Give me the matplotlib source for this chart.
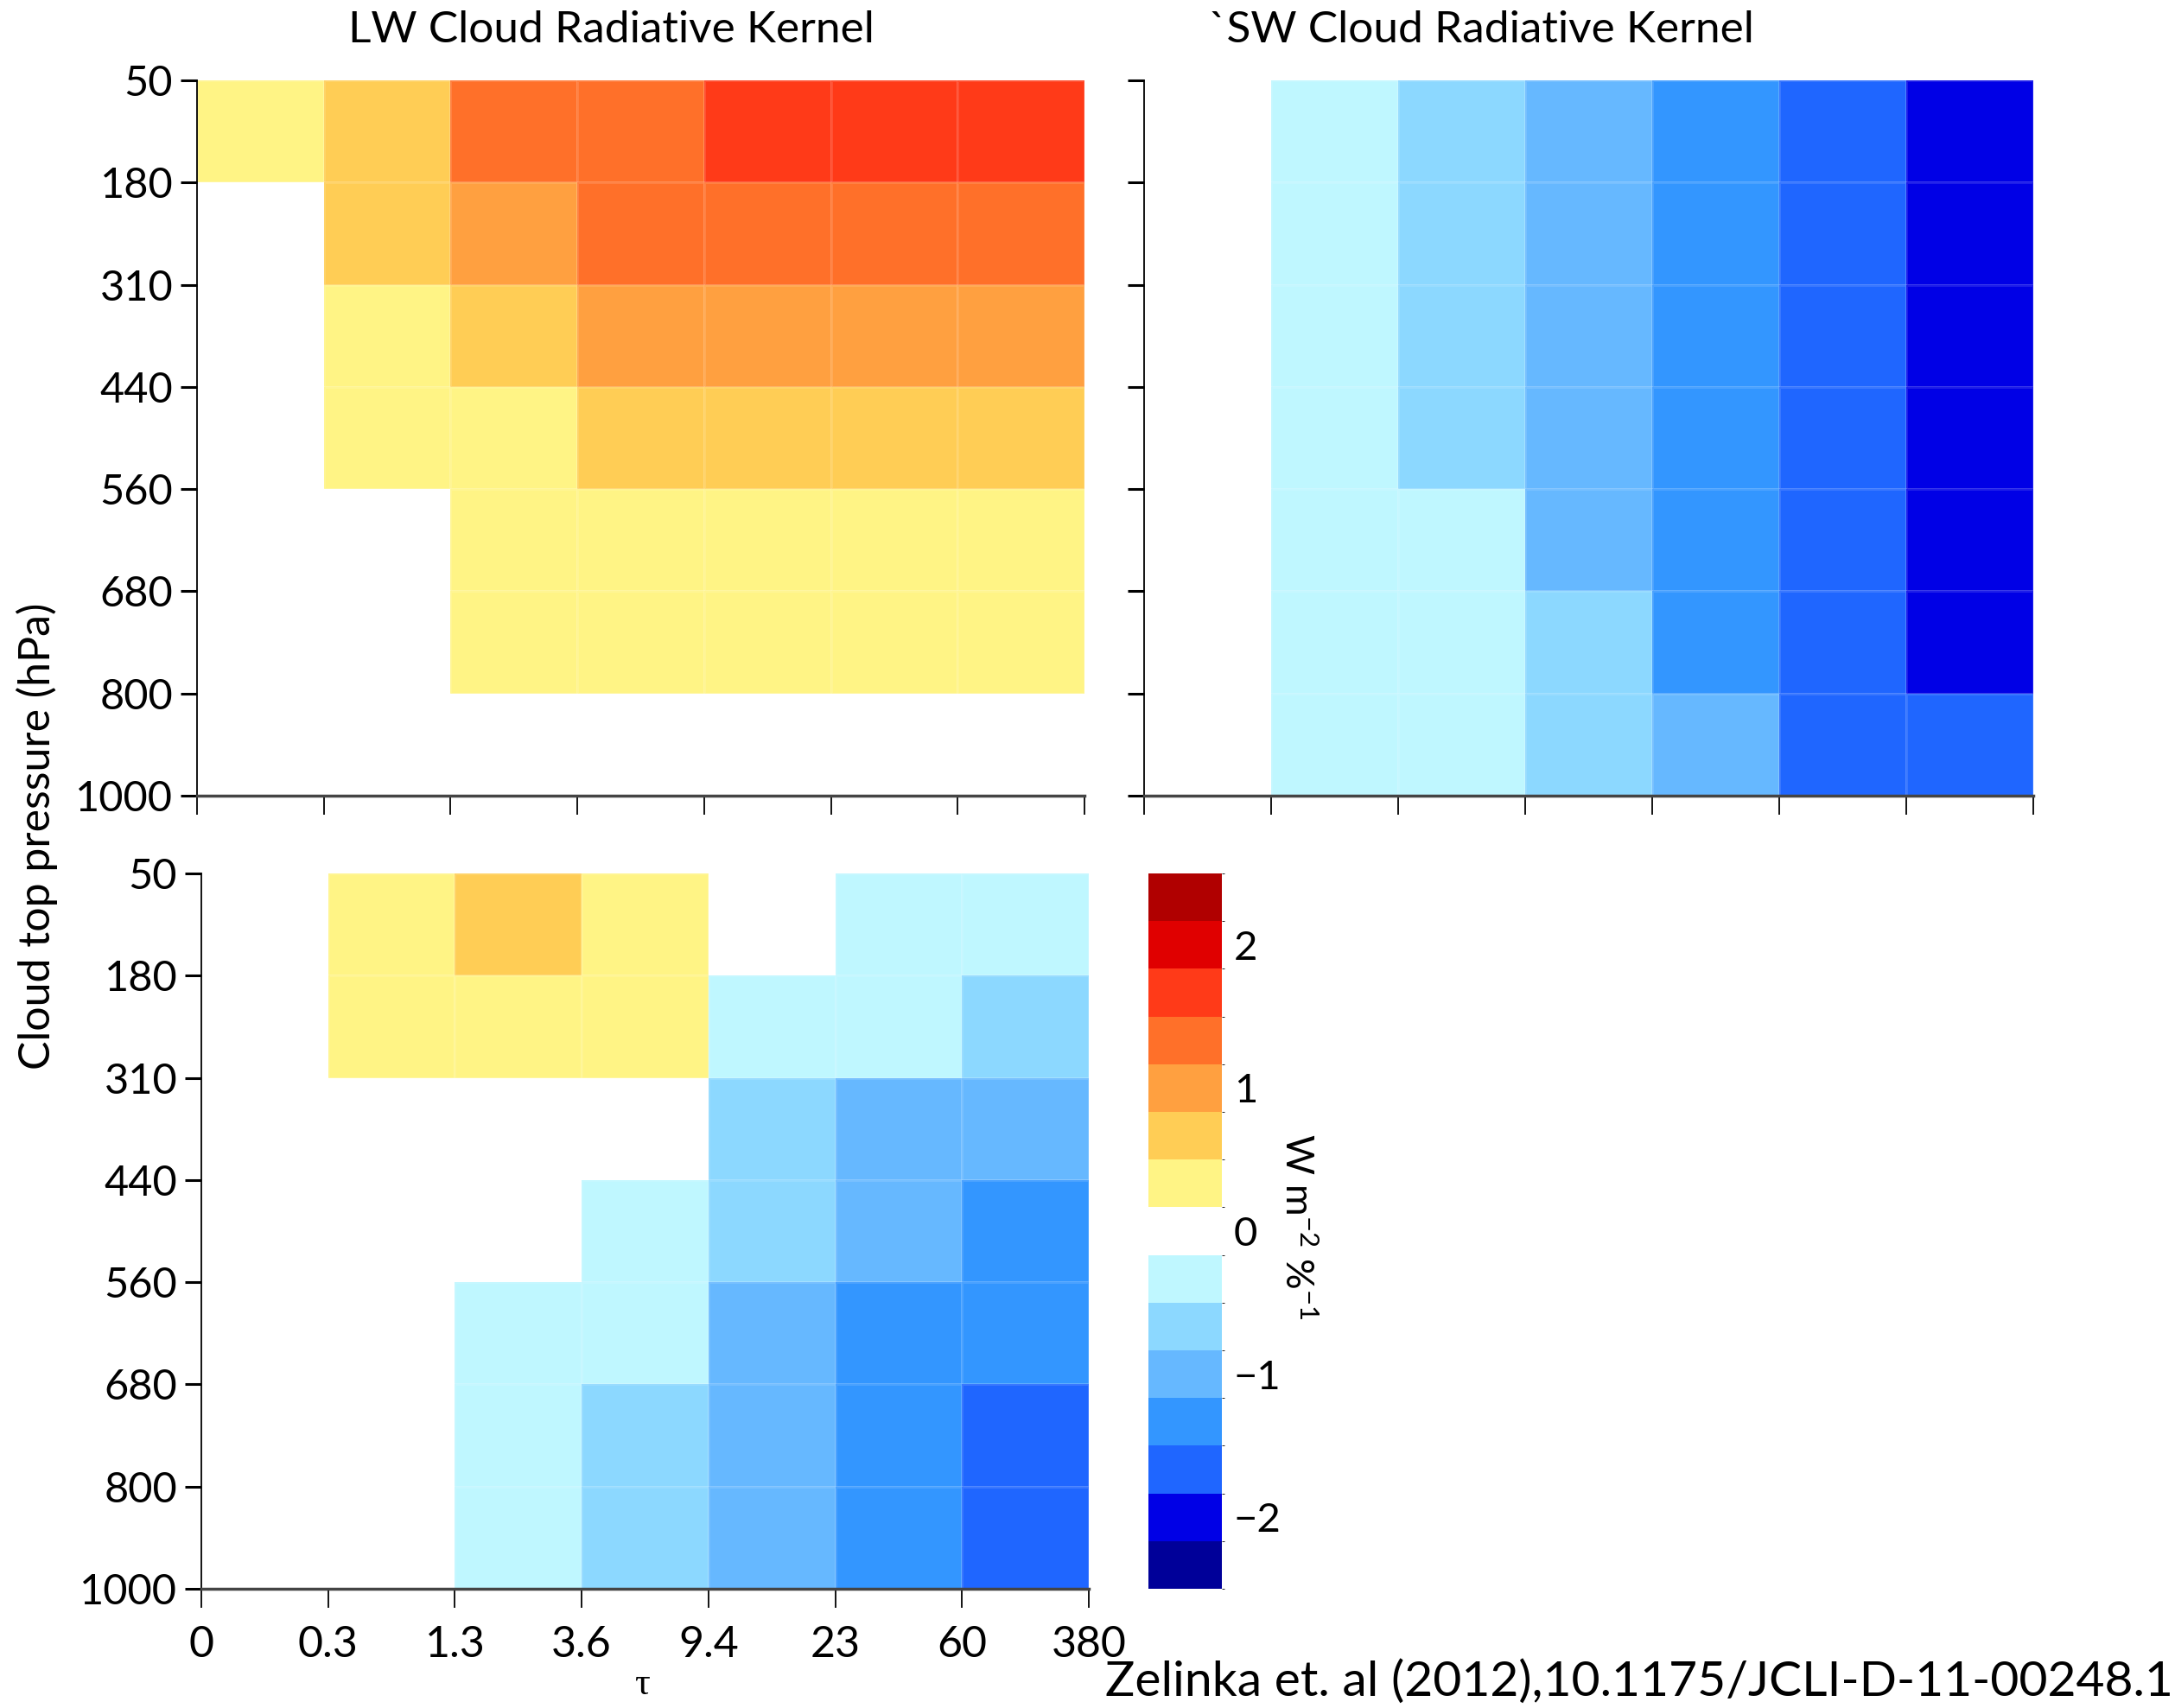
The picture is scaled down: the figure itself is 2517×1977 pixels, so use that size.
import numpy as np
import matplotlib
matplotlib.use("Agg")
import matplotlib.pyplot as plt
from matplotlib.colors import ListedColormap, BoundaryNorm
from matplotlib import font_manager as fm

# ---------------- data ----------------
tau_labels = ["0", "0.3", "1.3", "3.6", "9.4", "23", "60", "380"]
ctp_labels = ["50", "180", "310", "440", "560", "680", "800", "1000"]

# rows: pressure bins top (50-180) to bottom (800-1000); cols: tau bins
lw_kernel = [
    [0.3, 0.7, 1.3, 1.3, 1.7, 1.7, 1.7],
    [0.0, 0.7, 1.0, 1.3, 1.3, 1.3, 1.3],
    [0.0, 0.3, 0.7, 1.0, 1.0, 1.0, 1.0],
    [0.0, 0.3, 0.3, 0.7, 0.7, 0.7, 0.7],
    [0.0, 0.0, 0.3, 0.3, 0.3, 0.3, 0.3],
    [0.0, 0.0, 0.3, 0.3, 0.3, 0.3, 0.3],
    [0.0, 0.0, 0.0, 0.0, 0.0, 0.0, 0.0],
]
sw_kernel = [
    [0.0, -0.3, -0.7, -1.0, -1.3, -1.7, -2.0],
    [0.0, -0.3, -0.7, -1.0, -1.3, -1.7, -2.0],
    [0.0, -0.3, -0.7, -1.0, -1.3, -1.7, -2.0],
    [0.0, -0.3, -0.7, -1.0, -1.3, -1.7, -2.0],
    [0.0, -0.3, -0.3, -1.0, -1.3, -1.7, -2.0],
    [0.0, -0.3, -0.3, -0.7, -1.3, -1.7, -2.0],
    [0.0, -0.3, -0.3, -0.7, -1.0, -1.7, -1.7],
]
net_kernel = [
    [0.0, 0.3, 0.7, 0.3, 0.0, -0.3, -0.3],
    [0.0, 0.3, 0.3, 0.3, -0.3, -0.3, -0.7],
    [0.0, 0.0, 0.0, 0.0, -0.7, -1.0, -1.0],
    [0.0, 0.0, 0.0, -0.3, -0.7, -1.0, -1.3],
    [0.0, 0.0, -0.3, -0.3, -1.0, -1.3, -1.3],
    [0.0, 0.0, -0.3, -0.7, -1.0, -1.3, -1.7],
    [0.0, 0.0, -0.3, -0.7, -1.0, -1.3, -1.7],
]
cbar_ticks = [-2, -1, 0, 1, 2]
cbar_ticklabels = ['\u22122', '\u22121', '0', '1', '2']

colors = ['#000099', '#0000E6', '#1F66FF', '#3396FF', '#66B8FF', '#8CD8FF',
          '#BFF7FF', '#FFFFFF', '#FFF485', '#FFCD55', '#FFA040', '#FF7029',
          '#FF3A18', '#E00000', '#B00000']
bounds = np.linspace(-2.5, 2.5, len(colors) + 1)
cmap = ListedColormap(colors)
norm = BoundaryNorm(bounds, cmap.N)

# ---------------- fonts ----------------
names = {f.name for f in fm.fontManager.ttflist}
narrow = 'Liberation Sans Narrow' if 'Liberation Sans Narrow' in names else 'Lato'
main = 'Lato'
plt.rcParams['font.family'] = [main, 'DejaVu Sans']
plt.rcParams['mathtext.fontset'] = 'custom'
plt.rcParams['mathtext.rm'] = main
plt.rcParams['mathtext.it'] = main

W, H = 2517, 1977
fig = plt.figure(figsize=(W / 100, H / 100), dpi=100)

def box(l, t, r, b):
    return [l / W, 1 - b / H, (r - l) / W, (b - t) / H]

ax_lw = fig.add_axes(box(228, 93, 1255, 921))
ax_sw = fig.add_axes(box(1324, 93, 2353, 921))
ax_net = fig.add_axes(box(233, 1011, 1260, 1839))
cax = fig.add_axes(box(1329, 1011, 1414, 1839))

xe = np.arange(len(tau_labels))
ye = np.arange(len(ctp_labels))

def draw(ax, data, ylabels=True, xlabels=False):
    ax.pcolormesh(xe, ye, np.array(data), cmap=cmap, norm=norm,
                  edgecolors=(1, 1, 1, 0.12), linewidth=0.8)
    ax.set_xlim(0, len(tau_labels) - 1)
    ax.set_ylim(len(ctp_labels) - 1, 0)
    ax.set_xticks(xe)
    ax.set_yticks(ye)
    if ylabels:
        ax.set_yticklabels(ctp_labels, fontsize=35, fontfamily=main)
    else:
        ax.set_yticklabels([])
    if xlabels:
        ax.set_xticklabels(tau_labels, fontsize=36, fontfamily=narrow)
    else:
        ax.set_xticklabels([])
    for s in ['top', 'right']:
        ax.spines[s].set_visible(False)
    ax.spines['left'].set_linewidth(1.3)
    ax.spines['bottom'].set_linewidth(2.5)
    ax.spines['bottom'].set_color('#444444')
    ax.tick_params(axis='y', direction='out', length=14, width=2.2, pad=6)
    ax.tick_params(axis='x', direction='out', length=16, width=1.3, pad=14)

draw(ax_lw, lw_kernel)
draw(ax_sw, sw_kernel, ylabels=False)
draw(ax_net, net_kernel, xlabels=True)

cb = fig.colorbar(plt.cm.ScalarMappable(norm=norm, cmap=cmap), cax=cax,
                  boundaries=bounds, ticks=cbar_ticks)
cb.outline.set_visible(False)
cb.ax.tick_params(length=0, pad=10)
cb.ax.set_yticklabels(cbar_ticklabels, fontsize=34, fontfamily=main)

fig.text(441 / 1568, 1 - 35 / H, 'LW Cloud Radiative Kernel', fontsize=37,
         fontfamily=narrow, ha='center', va='center')
fig.text(1068 / 1568, 1 - 35 / H, '`SW Cloud Radiative Kernel', fontsize=37,
         fontfamily=narrow, ha='center', va='center')
fig.text(43 / W, 1 - 968 / H, 'Cloud top pressure (hPa)', fontsize=36,
         rotation=90, ha='center', va='center')
fig.text(1500 / W, 1 - 1420 / H, r'W m$^{-2}$ %$^{-1}$', fontsize=32,
         rotation=270, ha='center', va='center')
fig.text(743 / W, 1 - 1950 / H, '\u03c4', fontsize=32,
         fontfamily=['Liberation Serif', 'DejaVu Serif'], ha='center', va='center')
fig.text(1 - 2 / W, 1 - 1947 / H, 'Zelinka et. al (2012),10.1175/JCLI-D-11-00248.1',
         fontsize=41, fontfamily=narrow, ha='right', va='center')

fig.savefig('out.png', dpi=100)
